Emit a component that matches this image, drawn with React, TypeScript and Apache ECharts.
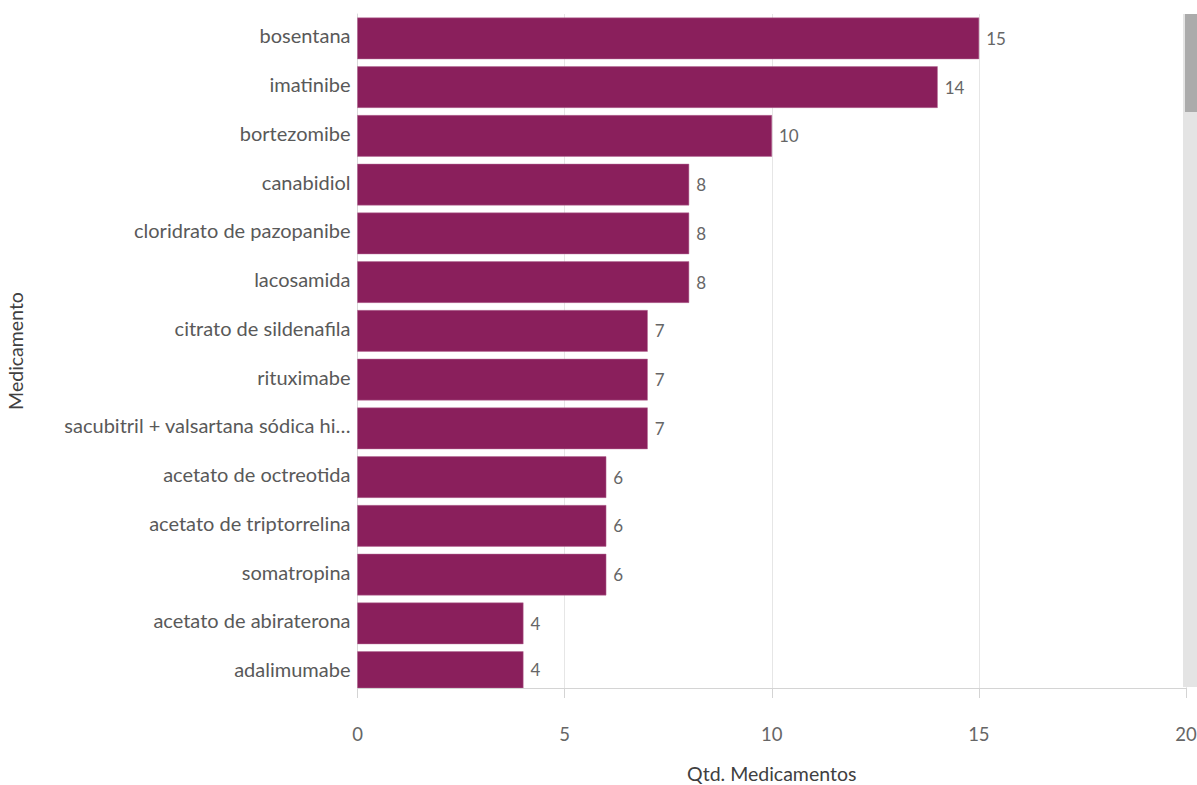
import React, { useEffect, useRef } from "react";
import * as echarts from "echarts";

const categories = [
  "bosentana",
  "imatinibe",
  "bortezomibe",
  "canabidiol",
  "cloridrato de pazopanibe",
  "lacosamida",
  "citrato de sildenafila",
  "rituximabe",
  "sacubitril + valsartana sódica hi…",
  "acetato de octreotida",
  "acetato de triptorrelina",
  "somatropina",
  "acetato de abiraterona",
  "adalimumabe",
];
const values = [15, 14, 10, 8, 8, 8, 7, 7, 7, 6, 6, 6, 4, 4];
const xMin = 0;
const xMax = 20;
const xInterval = 5;
const xName = "Qtd. Medicamentos";
const yName = "Medicamento";

const FONT = "Lato, 'Open Sans', sans-serif";
const BAR_COLOR = "#8A1F5C";

export default function App() {
  const ref = useRef<HTMLDivElement>(null);
  useEffect(() => {
    if (!ref.current) return;
    const chart = echarts.init(ref.current, undefined, { renderer: "svg" });
    const data = values.map((v, i) => [v, i]);
    chart.setOption({
      animation: false,
      textStyle: { fontFamily: FONT },
      grid: {
        left: 357.5,
        right: 11,
        top: 14,
        bottom: 97,
        containLabel: false,
        outerBoundsMode: "none",
      },
      xAxis: {
        type: "value",
        min: xMin,
        max: xMax,
        interval: xInterval,
        name: xName,
        nameLocation: "middle",
        nameGap: 75,
        nameTextStyle: { color: "#404040", fontSize: 19.5, fontFamily: FONT },
        axisLine: { show: true, onZero: false, lineStyle: { color: "#d4d4d4", width: 1 } },
        axisTick: { show: true, length: 10, lineStyle: { color: "#d4d4d4" } },
        axisLabel: { color: "#666", fontSize: 18.5, margin: 36, fontFamily: FONT },
        splitLine: { show: true, lineStyle: { color: "#e6e6e6", width: 1 } },
      },
      yAxis: {
        type: "value",
        inverse: true,
        min: -0.5,
        max: 13.326,
        interval: 0.5,
        name: yName,
        nameLocation: "middle",
        nameGap: 332,
        nameTextStyle: { color: "#404040", fontSize: 19.5, fontFamily: FONT },
        axisLine: { show: true, onZero: false, lineStyle: { color: "#d9d9d9", width: 1 } },
        axisTick: { show: false },
        splitLine: { show: false },
        axisLabel: {
          color: "#595959",
          fontSize: 20,
          margin: 7,
          verticalAlign: "bottom",
          lineHeight: 6,
          fontFamily: FONT,
          showMinLabel: true,
          showMaxLabel: true,
          formatter: (v: number) => {
            const r = Math.round(v);
            return Math.abs(v - r) < 1e-6 && categories[r] !== undefined ? categories[r] : "";
          },
        },
      },
      series: [
        {
          type: "custom",
          clip: true,
          data,
          encode: { x: 0, y: 1 },
          renderItem: (params: any, api: any) => {
            const idx = api.value(1);
            const val = api.value(0);
            const start = api.coord([0, idx]);
            const end = api.coord([val, idx]);
            const h = api.size([0, 0.842])[1];
            const shape = echarts.graphic.clipRectByRect(
              { x: start[0], y: start[1] - h / 2, width: end[0] - start[0], height: h },
              {
                x: params.coordSys.x,
                y: params.coordSys.y,
                width: params.coordSys.width,
                height: params.coordSys.height,
              }
            );
            if (!shape) return null;
            return {
              type: "rect",
              shape,
              style: { fill: BAR_COLOR, stroke: "#b46a94", lineWidth: 0.5 },
              textContent: {
                style: {
                  text: String(val),
                  fill: "#666",
                  fontSize: 17,
                  fontFamily: FONT,
                },
              },
              textConfig: { position: "right", distance: 7 },
            };
          },
        },
      ],
      graphic: [
        {
          type: "rect",
          z: 10,
          shape: { x: 1183, y: 14, width: 14, height: 673 },
          style: { fill: "#e4e4e4" },
        },
        {
          type: "rect",
          z: 11,
          shape: { x: 1185, y: 14, width: 12, height: 98 },
          style: { fill: "#ababab" },
        },
      ],
    });
    return () => chart.dispose();
  }, []);
  return (
    <div
      ref={ref}
      style={{ position: "absolute", left: 0, top: 0, width: 1197, height: 785, background: "#fff" }}
    />
  );
}
